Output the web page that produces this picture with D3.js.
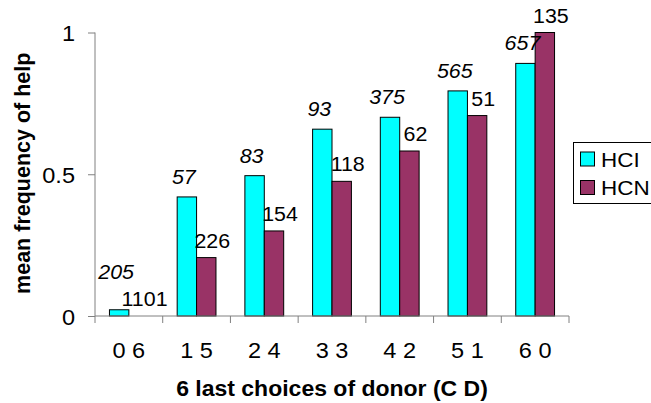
<!DOCTYPE html>
<html>
<head>
<meta charset="utf-8">
<script src="https://cdn.jsdelivr.net/npm/d3@7"></script>
<style>
  html, body { margin: 0; padding: 0; background: #fff; }
  svg { display: block; font-family: "Liberation Sans", Arial, sans-serif; }
</style>
</head>
<body>
<script>
// ---- data ----
const categories = ["0 6", "1 5", "2 4", "3 3", "4 2", "5 1", "6 0"];
const seriesNames = ["HCI", "HCN"];
const hciValues = [0.022, 0.42, 0.495, 0.659, 0.701, 0.794, 0.891];
const hcnValues = [0.0, 0.206, 0.30, 0.475, 0.582, 0.707, 1.0];
const hciCounts = ["205", "57", "83", "93", "375", "565", "657"];
const hcnCounts = ["1101", "226", "154", "118", "62", "51", "135"];
const yTicks = [0, 0.5, 1];
const yTickLabels = ["0", "0.5", "1"];
const xTitle = "6 last choices of donor (C D)";
const yTitle = "mean frequency of help";

// ---- layout ----
const W = 651, H = 403;
const plot = { left: 95, right: 569, top: 32.5, bottom: 316 };
const colors = { HCI: "#00FFFF", HCN: "#993366" };
const axisColor = "#808080";
const SX = 1.07; // horizontal stretch of the original chart's text

function stretch(sel) {
  sel.each(function () {
    const t = d3.select(this);
    const x = +t.attr("x") || 0, yy = +t.attr("y") || 0;
    t.attr("x", 0).attr("y", 0)
     .attr("transform", `translate(${x},${yy}) scale(${SX},1)`);
  });
}

const svg = d3.select("body").append("svg").attr("width", W).attr("height", H);
svg.append("rect").attr("width", W).attr("height", H).attr("fill", "#fff");

const x0 = d3.scaleBand().domain(categories).range([plot.left, plot.right]).padding(0);
const x1 = d3.scaleBand().domain(seriesNames).range([0, x0.bandwidth()])
  .paddingInner(0).paddingOuter(0.745);
const y = d3.scaleLinear().domain([0, 1]).range([plot.bottom, plot.top]);

const rows = categories.map((c, i) => ({
  cat: c,
  vals: [
    { s: "HCI", v: hciValues[i], label: hciCounts[i] },
    { s: "HCN", v: hcnValues[i], label: hcnCounts[i] }
  ]
}));

// bars
const g = svg.append("g");
const groups = g.selectAll("g.grp").data(rows).enter().append("g")
  .attr("class", "grp")
  .attr("transform", d => `translate(${x0(d.cat)},0)`);
groups.selectAll("rect").data(d => d.vals.filter(v => v.v > 0)).enter().append("rect")
  .attr("x", d => x1(d.s))
  .attr("y", d => y(d.v))
  .attr("width", x1.bandwidth())
  .attr("height", d => y(0) - y(d.v))
  .attr("fill", d => colors[d.s])
  .attr("stroke", "#000")
  .attr("stroke-width", 1);

// axes
const yAxis = d3.axisLeft(y).tickValues(yTicks)
  .tickFormat((d, i) => yTickLabels[i]).tickSize(7).tickPadding(13);
const ya = svg.append("g").attr("transform", `translate(${plot.left},0)`).call(yAxis);
ya.select(".domain").attr("stroke", axisColor).attr("d", `M0,${plot.top}V${plot.bottom}`);
ya.selectAll(".tick line").attr("stroke", axisColor);
ya.selectAll(".tick text").attr("font-size", 22).attr("fill", "#000")
  .attr("font-family", "'Liberation Sans', Arial, sans-serif").attr("dy", null)
  .attr("dominant-baseline", null);
ya.selectAll(".tick text").attr("y", 8).call(stretch);

const xa = svg.append("g").attr("transform", `translate(0,${plot.bottom})`);
xa.append("line").attr("x1", plot.left).attr("x2", plot.right)
  .attr("stroke", axisColor);
const bounds = categories.map(c => x0(c)).concat([plot.right]);
xa.selectAll("line.tk").data(bounds).enter().append("line").attr("class", "tk")
  .attr("x1", d => d).attr("x2", d => d).attr("y1", 0).attr("y2", 7)
  .attr("stroke", axisColor);
xa.selectAll("text").data(categories).enter().append("text")
  .attr("x", d => x0(d) + x0.bandwidth() / 2)
  .attr("y", 41.5)
  .attr("text-anchor", "middle")
  .attr("font-size", 22)
  .attr("fill", "#000")
  .text(d => d)
  .call(stretch);

// axis titles
svg.append("text")
  .attr("x", (plot.left + plot.right) / 2).attr("y", 395.5)
  .attr("text-anchor", "middle").attr("font-weight", "bold").attr("font-size", 21.5)
  .text(xTitle).call(stretch);
svg.append("text")
  .attr("transform", `translate(29.5,${(plot.top + plot.bottom) / 2 - 1}) rotate(-90)`)
  .attr("text-anchor", "middle").attr("font-weight", "bold").attr("font-size", 21.5)
  .text(yTitle);

// data labels
const labelLayer = svg.append("g");
rows.forEach(r => {
  const cx = x0(r.cat);
  const hci = r.vals[0], hcn = r.vals[1];
  const hcnT = labelLayer.append("text")
    .attr("x", cx + x1("HCN") + x1.bandwidth() / 2 + 6)
    .attr("y", y(hcn.v) - 10)
    .attr("text-anchor", "middle").attr("font-size", 20)
    .text(hcn.label);
  const hciT = labelLayer.append("text")
    .attr("x", cx + x1("HCI") + x1.bandwidth() / 2 - 3)
    .attr("y", y(hci.v) - 13)
    .attr("text-anchor", "middle").attr("font-size", 20).attr("font-style", "italic")
    .text(hci.label);
  // collision avoidance: lift the HCI label above the HCN label if they overlap
  const a = hciT.node().getBBox(), b = hcnT.node().getBBox();
  const overlap = a.x < b.x + b.width && b.x < a.x + a.width &&
                  a.y < b.y + b.height && b.y < a.y + a.height;
  if (overlap) hciT.attr("y", +hcnT.attr("y") - 27);
  stretch(hcnT); stretch(hciT);
});

// legend
const lg = svg.append("g").attr("transform", "translate(573.5,142.5)");
lg.append("rect").attr("width", 100).attr("height", 61)
  .attr("fill", "#fff").attr("stroke", "#000").attr("stroke-width", 1);
seriesNames.forEach((s, i) => {
  lg.append("rect").attr("x", 7).attr("y", 9.5 + i * 28.5).attr("width", 14).attr("height", 14)
    .attr("fill", colors[s]).attr("stroke", "#000");
  lg.append("text").attr("x", 27.5).attr("y", 24 + i * 28.5)
    .attr("font-size", 21).text(s).call(stretch);
});
</script>
</body>
</html>
